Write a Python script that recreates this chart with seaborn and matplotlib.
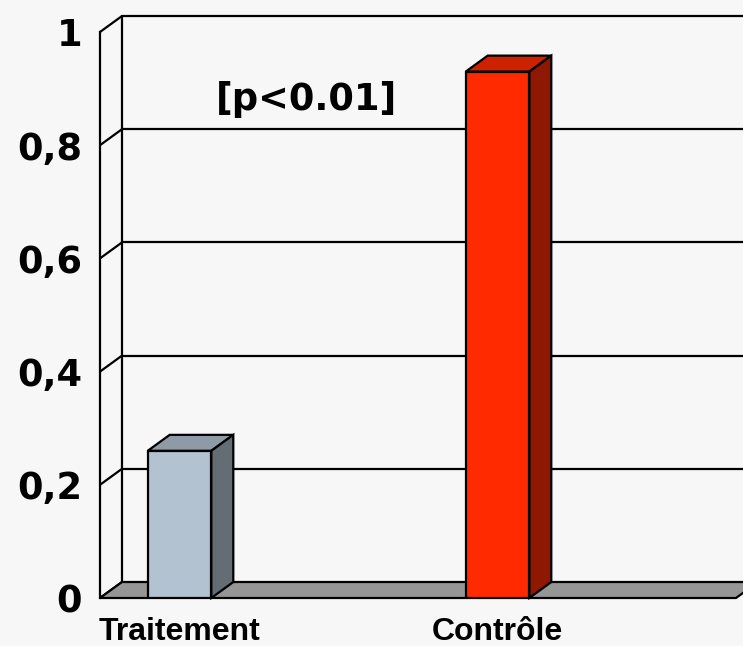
import numpy as np
import pandas as pd
import seaborn as sns
import matplotlib.pyplot as plt
from matplotlib.patches import Polygon
from matplotlib.colors import to_rgb

# data
categories = ["Traitement", "Contrôle"]
values = [0.26, 0.93]
slots = ["Traitement", " ", "Contrôle", "  "]   # Excel-style axis with empty slots
colors = ["#B2C2D0", "#FF2A00"]
yticks = [0, 0.2, 0.4, 0.6, 0.8, 1.0]
ytick_labels = ["0", "0,2", "0,4", "0,6", "0,8", "1"]
annotation = "[p<0.01]"

BG = "#F7F7F7"
# depth of the fake 3D effect, in data units (22 px right, 16 px up)
DX, DY = 22 / 159, 16 / 566


def add_depth(ax, bars):
    """draw top and side faces for every bar"""
    for p in bars:
        h = p.get_height()
        if not np.isfinite(h) or h <= 0:
            continue
        x, w = p.get_x(), p.get_width()
        fc = np.array(to_rgb(p.get_facecolor()))
        top = Polygon([(x, h), (x + w, h), (x + w + DX, h + DY), (x + DX, h + DY)],
                      fc=fc * 0.8, ec="black", lw=1.6, zorder=4, clip_on=False)
        side = Polygon([(x + w, 0), (x + w + DX, DY), (x + w + DX, h + DY), (x + w, h)],
                       fc=fc * 0.56, ec="black", lw=1.6, zorder=4, clip_on=False)
        ax.add_patch(top)
        ax.add_patch(side)


def draw_walls(ax):
    """back wall grid, left wall diagonals and grey floor"""
    x0 = -0.5
    for y in yticks:
        ax.plot([x0, x0 + DX], [y, y + DY], color="black", lw=1.6, clip_on=False, zorder=2)
        if y > 0:
            ax.plot([x0 + DX, 5], [y + DY, y + DY], color="black", lw=1.6, clip_on=False, zorder=2)
    ax.plot([x0 + DX, x0 + DX], [DY, 1 + DY], color="black", lw=1.6, clip_on=False, zorder=2)
    floor = Polygon([(x0, 0), (3.5, 0), (3.5 + DX, DY), (x0 + DX, DY)],
                    fc="#969696", ec="black", lw=1.6, zorder=3, clip_on=False)
    ax.add_patch(floor)


def create_plot(df):
    sns.set_style("white")
    plt.rcParams["font.family"] = ["DejaVu Sans"]
    plt.rcParams["text.color"] = "black"

    fig = plt.figure(figsize=(7.43, 6.46), dpi=100, facecolor=BG)
    ax = fig.add_axes([100 / 743, 48 / 646, 643 / 743, 566 / 646])
    ax.set_facecolor(BG)

    sns.barplot(data=df, x="groupe", y="valeur", order=slots, hue="groupe",
                hue_order=categories, palette=colors, saturation=1, dodge=False,
                width=0.4, edgecolor="black", linewidth=1.6, legend=False, ax=ax, zorder=5)
    bars = list(ax.patches)

    ax.set_xlim(-0.5, -0.5 + 643 / 159)
    ax.set_ylim(0, 1)
    draw_walls(ax)
    add_depth(ax, bars)

    for s in ["top", "right", "bottom"]:
        ax.spines[s].set_visible(False)
    ax.spines["left"].set_linewidth(1.6)
    ax.spines["left"].set_color("black")
    ax.spines["left"].set_zorder(6)

    ax.set_yticks(yticks, ytick_labels)
    ax.tick_params(axis="y", direction="out", length=6, width=1.6, pad=7,
                   labelsize=26.5, colors="black", labelcolor="black")
    for lbl in ax.get_yticklabels():
        lbl.set_fontweight("bold")

    ax.set_xticks(np.arange(-0.5, 4, 1))
    ax.set_xticklabels([])
    ax.set_xticks([0, 2], categories, minor=True)
    ax.tick_params(axis="x", which="major", direction="out", length=5, width=1.6, colors="black")
    ax.tick_params(axis="x", which="minor", length=0, pad=14, labelsize=23, labelcolor="black")
    for lbl in ax.get_xticklabels(minor=True):
        lbl.set_fontfamily("Liberation Sans")
        lbl.set_fontweight("bold")

    ax.set_xlabel("")
    ax.set_ylabel("")
    ax.text(0.8, 0.88, annotation, ha="center", va="center", fontsize=26.5,
            fontweight="bold", color="black")

    fig.savefig("out.png", dpi=100, facecolor=BG)
    plt.close(fig)


def main():
    df = pd.DataFrame({"groupe": categories, "valeur": values})
    create_plot(df)


if __name__ == "__main__":
    main()
